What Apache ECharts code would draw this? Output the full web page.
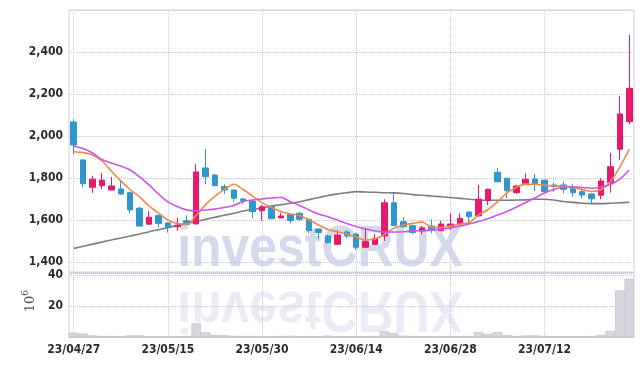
<!DOCTYPE html>
<html>
<head>
<meta charset="utf-8">
<script src="https://cdn.jsdelivr.net/npm/echarts@6/dist/echarts.min.js"></script>
<style>html,body{margin:0;padding:0;background:#fff}#c{width:643px;height:366px}</style>
</head>
<body>
<div id="c"></div>
<script>
var dates = ['23/04/27','23/04/28','23/05/02','23/05/03','23/05/04','23/05/08','23/05/09','23/05/10','23/05/11','23/05/12',
'23/05/15','23/05/16','23/05/17','23/05/18','23/05/19','23/05/22','23/05/23','23/05/24','23/05/25','23/05/26',
'23/05/30','23/05/31','23/06/01','23/06/02','23/06/05','23/06/07','23/06/08','23/06/09','23/06/12','23/06/13',
'23/06/14','23/06/15','23/06/16','23/06/19','23/06/20','23/06/21','23/06/22','23/06/23','23/06/26','23/06/27',
'23/06/28','23/06/29','23/06/30','23/07/03','23/07/04','23/07/05','23/07/06','23/07/07','23/07/10','23/07/11',
'23/07/12','23/07/13','23/07/14','23/07/17','23/07/18','23/07/19','23/07/20','23/07/21','23/07/24','23/07/25'];

var open  = [2067,1886,1756,1763,1743,1748,1730,1656,1580,1622,1586,1568,1597,1581,1848,1814,1759,1743,1700,1690,
             1644,1663,1610,1627,1632,1603,1557,1524,1484,1543,1533,1470,1484,1524,1682,1592,1573,1548,1571,1549,
             1568,1581,1638,1620,1692,1827,1799,1730,1775,1795,1790,1767,1767,1751,1735,1724,1718,1778,1937,2068];
var close = [1957,1773,1794,1790,1762,1724,1648,1571,1613,1584,1565,1575,1578,1829,1806,1763,1743,1703,1692,1640,
             1663,1606,1619,1597,1603,1549,1540,1492,1529,1524,1470,1497,1513,1682,1573,1568,1540,1562,1552,1581,
             1581,1608,1616,1699,1746,1782,1740,1762,1794,1770,1735,1759,1746,1730,1719,1701,1786,1854,2105,2227];
var low   = [1915,1756,1729,1746,1743,1719,1632,1571,1580,1565,1540,1549,1578,1581,1770,1763,1724,1687,1676,1608,
             1595,1606,1610,1584,1595,1538,1510,1488,1484,1513,1457,1465,1484,1500,1573,1565,1533,1533,1537,1549,
             1552,1578,1581,1616,1671,1780,1703,1724,1770,1738,1735,1735,1727,1711,1703,1680,1699,1730,1886,2056];
var high  = [2080,1888,1811,1825,1806,1787,1735,1663,1643,1624,1590,1611,1622,1865,1938,1819,1770,1745,1706,1692,
             1671,1665,1635,1629,1638,1605,1560,1530,1552,1552,1540,1557,1533,1699,1727,1613,1578,1571,1603,1597,
             1632,1632,1640,1767,1750,1849,1800,1765,1822,1819,1790,1778,1782,1770,1751,1726,1799,1920,2192,2481];

var maShort = [1925,1921,1910,1881,1833,1786,1745,1710,1667,1633,1600,1583,1581,1622,1673,1714,1746,1770,1745,1714,
               1683,1660,1640,1629,1621,1600,1576,1555,1544,1533,1518,1505,1510,1531,1560,1576,1584,1590,1567,1564,
               1571,1581,1588,1624,1650,1686,1729,1755,1771,1770,1765,1762,1760,1755,1745,1736,1745,1783,1852,1937];
var maMid   = [1952,1940,1919,1888,1871,1857,1838,1805,1767,1724,1686,1664,1648,1644,1648,1652,1660,1669,1688,1695,
               1700,1705,1708,1687,1669,1648,1629,1616,1600,1583,1569,1557,1548,1543,1543,1544,1548,1549,1552,1556,
               1562,1571,1581,1593,1607,1624,1640,1662,1683,1706,1729,1745,1757,1758,1755,1751,1757,1769,1795,1838];
var maLong  = [1465,1475,1485,1495,1505,1514,1524,1533,1544,1554,1564,1574,1583,1593,1603,1613,1623,1632,1643,1650,
               1658,1666,1673,1680,1687,1697,1707,1717,1724,1730,1735,1733,1732,1730,1729,1726,1721,1718,1714,1711,
               1707,1703,1699,1695,1694,1694,1694,1695,1696,1699,1699,1695,1688,1684,1680,1678,1678,1680,1682,1684];

var volume = [2.8,2.2,1.0,0.6,0.6,0.5,1.0,1.0,0.5,0.4,0.4,0.5,0.6,8.8,3.0,1.3,1.2,0.7,0.6,0.6,
              0.5,0.5,0.6,0.8,0.5,0.6,0.5,0.9,0.6,0.5,0.5,0.5,0.6,3.8,2.5,0.8,0.6,0.5,0.5,0.5,
              0.5,0.5,0.6,3.2,2.0,3.1,1.3,0.6,1.0,1.0,0.6,0.5,0.5,0.5,0.5,0.6,1.3,3.9,30,37.5];

var priceTicks = [1400,1600,1800,2000,2200,2400];
var volTicks = [20,40];

var ohlc = dates.map(function(d,i){ return [open[i], close[i], low[i], high[i]]; });

var UP = '#e6196a', DOWN = '#3196cb';
var GRIDC = '#c5c9de';
var FONT = '"DejaVu Sans Condensed", "DejaVu Sans", sans-serif';

function fmt(v){ return String(v).replace(/\B(?=(\d{3})+(?!\d))/g, ','); }

var chart = echarts.init(document.getElementById('c'), null, {renderer:'canvas'});
chart.setOption({
  animation: false,
  backgroundColor: '#fff',
  graphic: [
    {type:'text', x:320, y:279, scaleX:0.86, z:0, silent:true,
     style:{x:0,y:0,text:'investCRUX', font:'bold 58px "Liberation Sans", Arial, sans-serif', fill:'rgba(186,194,224,0.62)', align:'center', verticalAlign:'bottom'}},
    {type:'text', x:320, y:279, scaleX:0.86, scaleY:-1, z:0, silent:true,
     style:{x:0,y:0,text:'investCRUX', font:'bold 58px "Liberation Sans", Arial, sans-serif', fill:'rgba(200,206,228,0.38)', align:'center', verticalAlign:'bottom'}},
    {type:'text', x:31, y:304, rotation:Math.PI/2, silent:true,
     style:{x:0,y:0,text:'10', font:'13px "DejaVu Serif", serif', fill:'#555', align:'center', verticalAlign:'middle'}},
    {type:'text', x:26, y:293, rotation:Math.PI/2, silent:true,
     style:{x:0,y:0,text:'6', font:'9px "DejaVu Serif", serif', fill:'#555', align:'center', verticalAlign:'middle'}}
  ],
  grid: [
    {left:69, right:9, top:10, height:262, show:true, borderColor:'#cfd1da', borderWidth:1},
    {left:69, right:9, top:273, height:64, show:true, borderColor:'#cfd1da', borderWidth:1}
  ],
  xAxis: [
    {type:'category', gridIndex:0, data:dates, boundaryGap:true,
     axisLine:{show:false}, axisTick:{show:false}, axisLabel:{show:false},
     splitLine:{show:true, interval:9, alignWithLabel:true, lineStyle:{color:GRIDC, type:'dotted', width:1}}},
    {type:'category', gridIndex:1, data:dates, boundaryGap:true,
     axisLine:{show:true, lineStyle:{color:'#c8cad4'}}, axisTick:{show:false},
     axisLabel:{show:true, interval:9, color:'#2a2a2a', fontFamily:FONT, fontWeight:'bold', fontSize:12, margin:7},
     splitLine:{show:true, interval:9, alignWithLabel:true, lineStyle:{color:GRIDC, type:'dotted', width:1}}}
  ],
  yAxis: [
    {type:'value', gridIndex:0, min:1352.4, max:2600, splitNumber:6, scale:true,
     axisLine:{show:false}, axisTick:{show:false},
     axisLabel:{color:'#2a2a2a', fontFamily:FONT, fontWeight:'bold', fontSize:12, margin:6,
       formatter:function(v){ return priceTicks.indexOf(v) >= 0 ? fmt(v) : ''; }},
     splitLine:{show:true, lineStyle:{color:GRIDC, type:'dotted', width:1}}},
    {type:'value', gridIndex:1, min:0, max:41.2, interval:20,
     axisLine:{show:false}, axisTick:{show:false},
     axisLabel:{color:'#2a2a2a', fontFamily:FONT, fontWeight:'bold', fontSize:12, margin:6,
       formatter:function(v){ return volTicks.indexOf(v) >= 0 ? String(v) : ''; }},
     splitLine:{show:true, lineStyle:{color:GRIDC, type:'dotted', width:1}}}
  ],
  series: [
    {type:'line', xAxisIndex:0, yAxisIndex:0, data:maLong, smooth:0.3, symbol:'none', z:3,
     lineStyle:{color:'#7d7d7d', width:1.6}},
    {type:'candlestick', xAxisIndex:0, yAxisIndex:0, data:ohlc, barWidth:6, z:4,
     itemStyle:{color:UP, color0:DOWN, borderColor:UP, borderColor0:DOWN, borderWidth:1}},
    {type:'line', xAxisIndex:0, yAxisIndex:0, data:maShort, smooth:0.3, symbol:'none', z:5,
     lineStyle:{color:'#f08a4c', width:1.6}},
    {type:'line', xAxisIndex:0, yAxisIndex:0, data:maMid, smooth:0.3, symbol:'none', z:5,
     lineStyle:{color:'#c956e8', width:1.6}},
    {type:'bar', xAxisIndex:1, yAxisIndex:1, data:volume, barWidth:'100%', barCategoryGap:'0%', z:3,
     itemStyle:{color:'#d6d6dc', borderColor:'#bcbcc6', borderWidth:0.6}}
  ]
});
</script>
</body>
</html>
